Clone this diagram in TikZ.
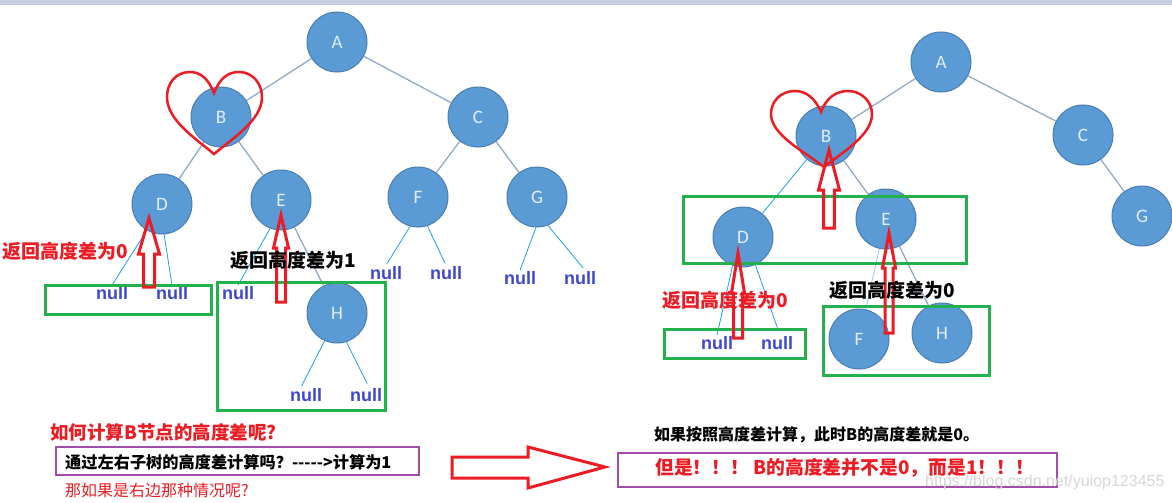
\documentclass[tikz,border=0pt]{standalone}
\usepackage{fontspec}
\usetikzlibrary{backgrounds}
\setmainfont{Liberation Sans}
\newfontfamily\cjk{Noto Sans CJK SC}
\newfontfamily\letterfont{Carlito}
\newfontfamily\nulltextfont{Liberation Sans}
\definecolor{nodefill}{HTML}{5B9BD5}
\definecolor{nodeborder}{HTML}{4A7DB0}
\definecolor{nodetext}{HTML}{E4EEF8}
\definecolor{edgecol}{HTML}{93A9C4}
\definecolor{nullcol}{HTML}{1BA1E2}
\definecolor{lightcyan}{HTML}{8ECFEF}
\definecolor{nullblue}{HTML}{3F48CC}
\definecolor{boxgreen}{HTML}{22B14C}
\definecolor{boxpurple}{HTML}{A04EA8}
\definecolor{arrred}{HTML}{ED1C24}
\definecolor{topbar}{HTML}{C5CEE0}
\definecolor{wmgray}{HTML}{D6D6D6}
\newcommand{\blockup}[6]{%
  \draw[redarrow] (#1,#2) -- (#1+#5,#3) -- (#1+#6,#3) -- (#1+#6,#4)
    -- (#1-#6,#4) -- (#1-#6,#3) -- (#1-#5,#3) -- cycle;}
\tikzset{
  tnode/.style={circle, draw=nodeborder, fill=nodefill, line width=1pt,
    minimum size=60pt, inner sep=0pt, text=nodetext,
    font=\letterfont\fontsize{19}{19}\selectfont},
  edge/.style={draw=edgecol, line width=1.3pt},
  nullline/.style={draw=nullcol, line width=0.8pt},
  nulltxt/.style={text=nullblue, font=\nulltextfont\bfseries\fontsize{18}{18}\selectfont, inner sep=1pt},
  greenbox/.style={draw=boxgreen, line width=3pt},
  purplebox/.style={draw=boxpurple, line width=2.6pt},
  redarrow/.style={draw=arrred, line width=3pt, line join=miter},
  heartline/.style={draw=arrred, line width=2.5pt},
  lbl/.style={font=\cjk\bfseries\fontsize{19}{19}\selectfont, inner sep=0pt},
}
\begin{document}
\begin{tikzpicture}[x=1pt,y=-1pt]
\useasboundingbox (0,0) rectangle (1172,503);
\fill[topbar] (0,0) rectangle (1172,5);

% ---------- left tree ----------
\node[tnode] (A) at (337,42) {A};
\node[tnode] (B) at (221,117) {B};
\node[tnode] (C) at (478,117) {C};
\node[tnode] (D) at (162,204) {D};
\node[tnode] (E) at (281,200) {E};
\node[tnode] (F) at (418,197) {F};
\node[tnode] (G) at (537,197) {G};
\node[tnode] (H) at (337,313) {H};
\begin{scope}[on background layer]
\foreach \a/\b in {A/B,A/C,B/D,B/E,C/F,C/G,E/H}
  \draw[edge] (\a) -- (\b);
\end{scope}

\node[nulltxt] (n1) at (112,293) {null};
\node[nulltxt] (n2) at (172,293) {null};
\node[nulltxt] (n3) at (238,293) {null};
\node[nulltxt] (n4) at (306,395) {null};
\node[nulltxt] (n5) at (366,395) {null};
\node[nulltxt] (n6) at (386,273) {null};
\node[nulltxt] (n7) at (446,273) {null};
\node[nulltxt] (n8) at (520,278) {null};
\node[nulltxt] (n9) at (580,278) {null};
\draw[nullline] (D.240) -- (n1.north);
\draw[nullline] (D.274) -- (n2.north);
\draw[nullline] (E.249) -- (n3.north);
\draw[nullline, shorten >=1pt] (H.246) -- ([xshift=-5pt]n4.north);
\draw[nullline, shorten >=4pt] (H.288) -- ([xshift=3pt]n5.north);
\draw[nullline, shorten >=2pt] (F.255) -- (n6.north);
\draw[nullline, shorten >=2pt] (F.288) -- (n7.north);
\draw[nullline] (G.268) -- (n8.north);
\draw[nullline, shorten >=3pt] (G.291) -- ([xshift=5pt]n9.north);

\draw[greenbox] (45,285) rectangle (211,314);
\draw[greenbox] (217,282) rectangle (385,410);

\blockup{149}{218}{254}{287}{10.5}{5.5}
\blockup{281}{215}{248}{302}{7.5}{4.5}

\draw[heartline] (214,93) .. controls (208,78) and (200,72) .. (190,72)
  .. controls (175,72) and (167,84) .. (167,97)
  .. controls (167,120) and (195,138) .. (214,154)
  .. controls (233,138) and (262,120) .. (262,97)
  .. controls (262,84) and (253,72) .. (239,72)
  .. controls (228,72) and (220,78) .. (214,93) -- cycle;

\node[lbl, text=arrred] (l1) at (65,251) {返回高度差为0};
\node[lbl] (l2) at (293,260) {返回高度差为1};

% ---------- right tree ----------
\node[tnode] (A2) at (941,62) {A};
\node[tnode] (B2) at (826,136) {B};
\node[tnode] (C2) at (1083,135) {C};
\node[tnode] (G2) at (1142,216) {G};
\node[tnode] (D2) at (743,237) {D};
\node[tnode] (E2) at (886,219) {E};
\node[tnode] (F2) at (859,339) {F};
\node[tnode] (H2) at (942,333) {H};
\begin{scope}[on background layer]
\foreach \a/\b in {A2/B2,A2/C2,C2/G2,B2/E2,E2/H2}
  \draw[edge] (\a) -- (\b);
\draw[nullline] (B2) -- (D2);
\draw[draw=lightcyan, line width=0.8pt] (E2) -- (F2);
\end{scope}

\node[nulltxt] (m1) at (717,343) {null};
\node[nulltxt] (m2) at (777,343) {null};
\draw[nullline] (D2.250) -- (m1.north);
\draw[nullline, shorten >=8pt] (D2.294) -- ([xshift=3pt]m2.north);

\draw[greenbox] (683,196) rectangle (966,263);
\draw[greenbox] (664,329) rectangle (805,358);
\draw[greenbox] (823,306) rectangle (989,375);

\blockup{829}{150}{190}{228}{10.5}{5.3}
\blockup{738}{253}{293}{338}{6.5}{4.5}
\blockup{889}{233}{268}{333}{6.5}{4}

\draw[heartline] (821,112) .. controls (815,98) and (806,91) .. (795,91)
  .. controls (780,91) and (771,102) .. (771,114)
  .. controls (771,135) and (805,152) .. (824,167)
  .. controls (843,152) and (872,135) .. (872,114)
  .. controls (872,102) and (862,91) .. (848,91)
  .. controls (836,91) and (826,98) .. (821,112) -- cycle;

\node[lbl, text=arrred] (r1) at (725,300) {返回高度差为0};
\node[lbl] (r2) at (892,290) {返回高度差为0};

% ---------- bottom texts ----------
\node[lbl, anchor=west, text=arrred, font=\cjk\bfseries\fontsize{18.5}{18.5}\selectfont] (q) at (50,432) {如何计算B节点的高度差呢?};
\draw[purplebox] (56,447) rectangle (419,475);
\node[lbl, anchor=west, font=\cjk\bfseries\fontsize{16.2}{16.2}\selectfont] (t1) at (65,462) {通过左右子树的高度差计算吗？----->计算为1};
\node[lbl, anchor=west, text=arrred, font=\cjk\fontsize{16}{16}\selectfont] (t2) at (65,490) {那如果是右边那种情况呢?};

\draw[redarrow] (452,457) -- (528,457) -- (528,447) -- (605,467) -- (528,488) -- (528,478) -- (452,478) -- cycle;

\node[lbl, anchor=west, font=\cjk\bfseries\fontsize{16}{16}\selectfont] (t3) at (654,435) {如果按照高度差计算，此时B的高度差就是0。};
\draw[purplebox] (618,453) rectangle (1057,487);
\node[lbl, anchor=west, text=arrred, font=\cjk\bfseries\fontsize{18.8}{18.8}\selectfont] (t4) at (655,468) {但是！！！ B的高度差并不是0，而是1！！！};
\node[anchor=west, inner sep=0pt, text=wmgray, font=\nulltextfont\fontsize{16}{16}\selectfont] (wm) at (925,482) {https://blog.csdn.net/yuiop123455};
\end{tikzpicture}
\end{document}
